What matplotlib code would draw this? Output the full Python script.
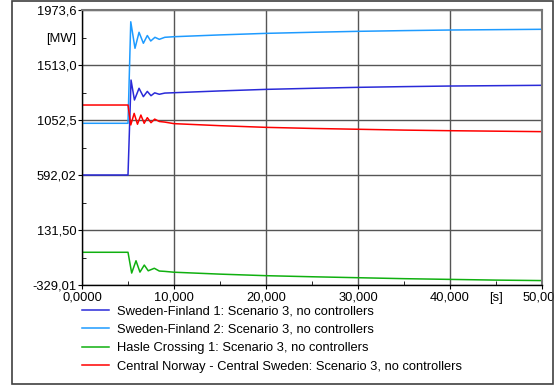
import matplotlib
matplotlib.use('Agg')
import matplotlib.pyplot as plt
from matplotlib.patches import Rectangle
from matplotlib.ticker import FixedLocator, FixedFormatter
from matplotlib.transforms import ScaledTranslation

plt.rcParams['font.family'] = ['Liberation Sans', 'DejaVu Sans']

# values (time in s, power in MW)
t_sf1 = [0, 5.0, 5.33, 5.7, 6.2, 6.67, 7.1, 7.5, 7.9, 8.4, 9, 10, 15, 20, 25, 30, 35, 40, 45, 50]
p_sf1 = [592, 592, 1387, 1220, 1318, 1248, 1292, 1256, 1280, 1268, 1278, 1281, 1296, 1309, 1318, 1326, 1332, 1337, 1340, 1343]

t_sf2 = [0, 5.0, 5.3, 5.76, 6.2, 6.67, 7.1, 7.47, 7.93, 8.4, 9.0, 10, 15, 20, 25, 30, 35, 40, 45, 50]
p_sf2 = [1025, 1025, 1875, 1653, 1787, 1695, 1760, 1714, 1745, 1728, 1745, 1750, 1765, 1778, 1787, 1795, 1801, 1806, 1809, 1812]

t_hasle = [0, 5.0, 5.4, 5.87, 6.3, 6.77, 7.2, 7.86, 8.4, 9, 10, 15, 20, 25, 30, 35, 40, 45, 50]
p_hasle = [-55, -55, -229, -126, -221, -162, -210, -189, -212, -215, -222, -238, -251, -260, -268, -276, -282, -288, -292]

t_norway = [0, 5.0, 5.3, 5.67, 6.03, 6.4, 6.76, 7.1, 7.5, 7.9, 8.4, 9, 10, 15, 20, 25, 30, 35, 40, 45, 50]
p_norway = [1178, 1178, 1011, 1108, 1017, 1094, 1025, 1072, 1030, 1060, 1040, 1035, 1022, 1005, 991, 982, 975, 968, 963, 959, 955]

labels = ['Sweden-Finland 1: Scenario 3, no controllers',
          'Sweden-Finland 2: Scenario 3, no controllers',
          'Hasle Crossing 1: Scenario 3, no controllers',
          'Central Norway - Central Sweden: Scenario 3, no controllers']
colors = ['#2a2ad8', '#1e9bff', '#10b010', '#ff0000']

y_ticks = [-329.01, 131.50, 592.02, 1052.5, 1513.0, 1973.6]
y_ticklabels = ['-329,01', '131,50', '592,02', '1052,5', '1513,0', '1973,6']
y_minor = [-98.76, 361.76, 822.26, 1282.75, 1743.3]
x_ticks = [0, 10, 20, 30, 40, 50]
x_ticklabels = ['0,0000', '10,000', '20,000', '30,000', '40,000', '50,00']
x_minor = [5, 15, 25, 35, 45]

fig = plt.figure(figsize=(5.59, 3.85), dpi=100)
fig.patches.append(Rectangle((12/559, 1/385), 541/559, 383/385, transform=fig.transFigure,
                             fill=False, edgecolor='#404040', linewidth=1.2))

ax = fig.add_axes([82/559, 1 - 285/385, 460/559, 275/385])

for t, p, c, lab in zip([t_sf1, t_sf2, t_hasle, t_norway],
                        [p_sf1, p_sf2, p_hasle, p_norway], colors, labels):
    ax.plot(t, p, color=c, linewidth=1.1, label=lab)

ax.set_xlim(0, 50)
ax.set_ylim(y_ticks[0], y_ticks[-1])

ax.yaxis.set_major_locator(FixedLocator(y_ticks))
ax.yaxis.set_major_formatter(FixedFormatter(y_ticklabels))
ax.yaxis.set_minor_locator(FixedLocator(y_minor))
ax.yaxis.set_minor_formatter(FixedFormatter(['', '', '', '', '[MW]']))
ax.xaxis.set_major_locator(FixedLocator(x_ticks))
ax.xaxis.set_major_formatter(FixedFormatter(x_ticklabels))
ax.xaxis.set_minor_locator(FixedLocator(x_minor))
ax.xaxis.set_minor_formatter(FixedFormatter(['', '', '', '', '[s]']))

ax.tick_params(which='major', direction='out', length=3, labelsize=9.3, color='black')
ax.tick_params(which='minor', direction='in', length=3, labelsize=9.3, color='black')
ax.tick_params(axis='y', which='major', pad=1)
ax.tick_params(axis='y', which='minor', pad=4)
ax.tick_params(axis='x', which='major', pad=2)
ax.tick_params(axis='x', which='minor', pad=5)

# last x label is cut by the window frame in the original, keep its left edge where it was
lbl = ax.get_xticklabels()[-1]
lbl.set_horizontalalignment('left')
lbl.set_transform(lbl.get_transform() + ScaledTranslation(-19/100, 0, fig.dpi_scale_trans))

ax.grid(True, which='major', color='#555555', linewidth=1.0)
ax.set_axisbelow(True)
for s in ['top', 'right']:
    ax.spines[s].set_color('#777777')
    ax.spines[s].set_linewidth(1.5)
for s in ['left', 'bottom']:
    ax.spines[s].set_color('black')
    ax.spines[s].set_linewidth(1.0)

fig.legend(loc='upper left', bbox_to_anchor=(82/559, 1 - 305/385), frameon=False,
           fontsize=9.3, handlelength=2.1, handletextpad=0.6, labelspacing=0.5,
           borderaxespad=0, borderpad=0)

fig.savefig('out.png', dpi=100)
